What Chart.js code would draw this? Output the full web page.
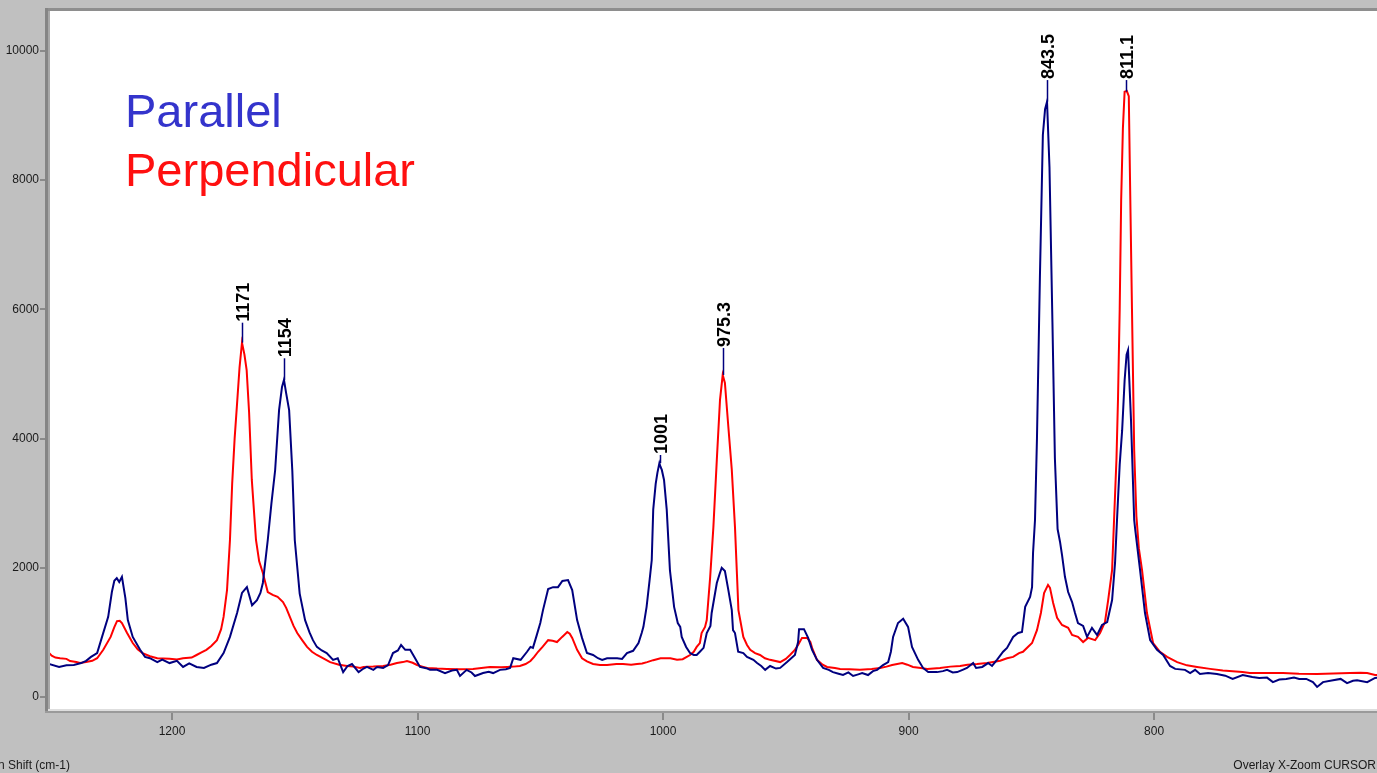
<!DOCTYPE html>
<html><head><meta charset="utf-8">
<script src="https://cdn.jsdelivr.net/npm/chart.js@4/dist/chart.umd.min.js"></script>
<style>html,body{margin:0;padding:0;background:#c0c0c0;overflow:hidden}canvas{display:block}</style>
</head><body>
<canvas id="c" width="1377" height="773"></canvas>
<script>
// ---- Data (Raman shift in cm-1, intensity) ----
const waveParallel = [
1250,1246,1243,1240,1237,1235,1233,1230.5,1228.5,1226,
1224.5,1223.5,1222.5,1221.5,1220.4,1219,1218,1216,1213,1211,
1209,1206,1204,1201,1198,1195.5,1193,1190,1187,1184,
1181.7,1179,1176.4,1173.5,1171.5,1169.5,1167.4,1165.4,1164,1163,
1161,1159.5,1158,1156.4,1155.2,1154.4,1153.5,1152.3,1151,1150,
1148,1145.8,1144,1142.6,1141,1139,1137,1134.4,1132.5,1130.3,
1128.5,1126.7,1124,1122,1120.6,1118,1116.5,1114,1112,1110,
1108,1106.7,1105,1103,1101,1099,1096,1094.9,1092,1088.8,
1086,1084,1082.7,1080,1078,1076.6,1073.3,1071,1069.2,1066.4,
1064,1062.3,1061,1058,1055.4,1054,1053,1051.5,1050,1048.9,
1046.8,1044.8,1042.8,1041,1038.7,1037,1035,1033,1031,1028.5,
1026.5,1024.8,1022.8,1018.7,1016.7,1014.7,1012.2,1010,1008.7,1008,
1006.7,1005.5,1004.6,1004,1003,1002.3,1001.5,1001,1000.5,999.6,
998.5,997.2,995.5,994,993,992.4,990.6,989,987.5,986.3,
985,983.5,982.2,980.7,980.2,978.1,977,976.1,974.8,973.4,
972,971.5,970.7,969.4,967.3,965.8,963.2,961.7,960,958.4,
956.4,954,952.3,949.5,946.3,945,944.6,942.6,940.9,939.3,
937.3,934.8,932.5,930.8,928.5,926.7,924.5,922.6,920.5,918.9,
916.5,914.5,912.8,910.4,908.3,907.2,906.3,904.3,902.2,900.2,
898.6,896.1,894.1,892,888.4,886,884.3,882,880.2,878,
876.2,873.7,872.5,870,867.6,866,864,861.5,859.9,857.4,
855.4,853.8,852.5,850.5,849.7,849.3,848.5,847.7,846.5,845.3,
844.4,843.6,842.6,841.4,840.4,839.3,838.3,837.5,836.3,835,
833.4,832.2,831,828.9,827.3,825.3,823.2,821.2,819.1,817.1,
815.9,815.1,814,813,812,811.2,810.6,809.4,808.1,807.7,
805.7,803.7,801.6,798.8,796.3,793.5,791.4,787.4,785.3,783.3,
781.3,778,774.4,771,768,763.9,760,757.2,754,751.6,
749,746.2,743,740.9,738,735.3,733.6,731.2,727.1,724,
721.4,719,717.3,713.2,710,708];
const parallel = [
510,465,490,495,525,560,620,680,930,1240,
1625,1800,1840,1780,1860,1530,1190,930,730,620,
600,540,580,525,560,465,520,465,450,500,
525,680,930,1300,1610,1700,1420,1500,1610,1765,
2430,3000,3510,4440,4800,4910,4700,4440,3500,2430,
1600,1190,1000,880,775,720,680,575,600,385,
480,510,385,440,465,420,465,450,495,680,
720,805,730,730,600,465,440,420,420,370,
410,420,325,420,380,325,370,390,370,420,
430,450,600,575,700,775,760,950,1145,1345,
1670,1700,1700,1795,1810,1655,1190,915,680,650,
600,575,600,600,590,680,715,835,990,1085,
1395,1800,2120,2900,3300,3470,3620,3560,3515,3360,
2900,1965,1395,1145,1085,930,775,680,650,650,
700,760,990,1100,1300,1765,1900,2000,1950,1655,
1345,1035,990,700,680,620,575,525,480,420,
480,440,450,540,650,850,1050,1050,915,730,
575,450,420,385,360,340,380,325,350,370,
340,400,420,495,540,700,930,1145,1210,1085,
775,575,450,385,385,400,420,380,385,420,
450,525,450,465,525,480,575,700,760,930,
990,1005,1395,1550,1700,2230,2740,4000,6500,8700,
9100,9215,8200,5800,3700,2600,2400,2200,1860,1625,
1470,1300,1145,1100,930,1070,960,1115,1160,1500,
2075,2740,3600,4130,4900,5300,5370,4290,2740,2600,
1965,1300,880,730,650,480,435,420,370,420,
355,370,355,330,280,340,310,295,300,230,
270,280,300,280,280,230,155,230,260,280,
215,250,260,230,295,300];

const wavePerpendicular = [
1250,1249,1247.5,1245.6,1243,1241.5,1239,1237.5,1235,1232.5,
1230.5,1228,1225,1223.5,1222.4,1221.3,1220.4,1218.3,1216,1214,
1212,1209,1206,1201,1198,1195.5,1192,1190,1188,1186,
1184,1181.7,1180,1179,1177.6,1176.4,1175.5,1174.5,1173.6,1172.5,
1171.5,1170.5,1169.6,1168.6,1167.5,1165.8,1164.5,1163,1161,1159,
1157,1154.8,1153.5,1152,1150.5,1149,1147,1145,1143,1141,
1138,1135.6,1132,1128.7,1126,1123.4,1122,1118,1114,1111,
1108.4,1106,1104.3,1102,1100.2,1098,1096.1,1092,1088,1083,
1077.4,1074,1070.5,1066,1063.5,1061,1058.3,1056,1054,1052.5,
1050.9,1049,1046.8,1045,1043.2,1041.1,1039,1038,1037,1035,
1033,1031,1028.5,1025.7,1022.8,1019,1016.3,1013,1010.6,1008.5,
1006.5,1004,1001,997,994.3,992,989,987.5,986.3,985,
984.3,982.9,982.2,980.8,979.5,978.1,976.8,975.7,974.8,973.4,
972,970.7,969.9,969.3,967.3,965.8,964.5,962.5,960.5,958.5,
956.4,952.3,950,948.3,946.5,945,943.4,941.3,940,939.3,
937.3,935,933.2,930,927.9,924,919.8,915,911.6,909,
906.7,902.6,900.5,898.2,895,892.4,887.2,883,879,876,
872.1,868,865.6,862.7,859.9,857.4,855,853.4,851.5,849.7,
847.7,846.1,844.8,843.2,842.4,841.1,839.5,837.5,835,833.4,
831,828.9,826.9,824,822,820,818.7,817.1,816.3,815.3,
814.7,814,813.4,812.7,812,811.1,810.3,809.6,809,808.1,
807.2,806.2,804.9,802.9,800.4,797.6,794.7,790.6,786.6,782.5,
777.2,772,768,764,761,755,747.5,741,733.6,727,
720.2,716,713.2,710,708];
const perpendicular = [
680,640,610,600,590,557,540,525,540,560,
600,730,930,1080,1175,1180,1145,990,835,740,
680,630,600,590,580,600,610,650,690,730,
790,880,1050,1240,1655,2430,3300,4000,4490,5100,
5485,5300,5060,4400,3360,2430,2100,1920,1625,1580,
1550,1470,1380,1240,1100,990,880,775,700,650,
590,540,500,480,470,450,465,470,480,500,
525,540,557,530,495,470,450,440,435,430,
435,450,465,460,465,470,480,510,557,620,
700,780,880,870,850,930,1005,980,915,730,
600,550,510,495,495,510,510,500,510,520,
540,570,600,600,575,585,650,700,775,835,
990,1085,1190,1860,2630,3670,4600,4985,4860,4180,
3515,2630,1900,1345,930,805,730,680,650,600,
575,540,590,650,720,805,915,915,850,760,
575,500,465,450,435,430,420,435,450,470,
495,525,500,465,450,435,450,470,480,500,
510,525,540,560,600,620,680,700,770,835,
1035,1300,1610,1735,1690,1455,1225,1115,1070,960,
930,850,915,880,990,1160,1500,1965,2740,3700,
4600,6000,7700,8800,9370,9380,9300,7500,6000,3820,
2800,2300,1965,1300,835,700,620,540,490,465,
435,410,400,385,370,370,370,360,355,365,
370,375,370,340,340];

const seriesNames = ['Parallel', 'Perpendicular'];
const xTicks = [1200, 1100, 1000, 900, 800];
const yTicks = [0, 2000, 4000, 6000, 8000, 10000];
const peakLabels = ['1171', '1154', '1001', '975.3', '843.5', '811.1'];
const peakWave = [1171.4, 1154.4, 1001.4, 975.4, 843.6, 811.3];
const peakValue = [5485, 4907, 3620, 4985, 9215, 9370];
const peakLabelValue = [5794, 5243, 3746, 5403, 9550, 9550];
const axisTitle = 'Raman Shift (cm-1)';
const statusText = 'Overlay X-Zoom CURSOR';

// ---- Rendering ----
const FONT = '"Liberation Sans", Arial, sans-serif';
const BLUE = '#00007f', RED = '#ff0000';

const framePlugin = {
  id: 'frame',
  beforeDraw(chart) {
    const { ctx, chartArea: a } = chart;
    ctx.save();
    ctx.fillStyle = '#c0c0c0';
    ctx.fillRect(0, 0, chart.width, chart.height);
    ctx.fillStyle = '#ffffff';
    ctx.fillRect(a.left, a.top, a.right - a.left, a.bottom - a.top);
    ctx.restore();
  },
  afterDatasetsDraw(chart) {
    const { ctx } = chart;
    const xs = chart.scales.x, ys = chart.scales.y;
    ctx.save();
    for (let i = 0; i < peakLabels.length; i++) {
      const x = Math.round(xs.getPixelForValue(peakWave[i])) + 0.5;
      const y1 = ys.getPixelForValue(peakValue[i]);
      const y0 = ys.getPixelForValue(peakLabelValue[i]);
      ctx.strokeStyle = BLUE;
      ctx.lineWidth = 1.5;
      ctx.beginPath(); ctx.moveTo(x, y1); ctx.lineTo(x, y0); ctx.stroke();
      ctx.save();
      ctx.translate(x + 6.5, y0 - 1);
      ctx.rotate(-Math.PI / 2);
      ctx.font = 'bold 18px ' + FONT;
      ctx.fillStyle = '#000000';
      ctx.textAlign = 'left';
      ctx.textBaseline = 'alphabetic';
      ctx.fillText(peakLabels[i], 0, 0);
      ctx.restore();
    }
    // legend texts
    ctx.font = '47px ' + FONT;
    ctx.textAlign = 'left';
    ctx.textBaseline = 'alphabetic';
    ctx.fillStyle = '#3434cc';
    ctx.fillText(seriesNames[0], 125, 127);
    ctx.fillStyle = '#ff1010';
    ctx.fillText(seriesNames[1], 125, 186);
    ctx.restore();
  },
  afterDraw(chart) {
    const { ctx, chartArea: a } = chart;
    const W = chart.width;
    ctx.save();
    // frame borders
    ctx.fillStyle = '#8e8e8e';
    ctx.fillRect(45, 8, W - 45, 3);
    ctx.fillStyle = '#858585';
    ctx.fillRect(45, 8, 3, a.bottom + 4 - 8);
    ctx.fillStyle = '#a8a8a8';
    ctx.fillRect(48, 11, 2, a.bottom - 11);
    ctx.fillStyle = '#dedede';
    ctx.fillRect(48, a.bottom, W - 48, 2);
    ctx.fillStyle = '#9a9a9a';
    ctx.fillRect(45, a.bottom + 2, W - 45, 2);
    // bottom texts
    ctx.fillStyle = '#1a1a1a';
    ctx.font = '12px ' + FONT;
    ctx.textBaseline = 'alphabetic';
    ctx.textAlign = 'right';
    ctx.fillText(axisTitle, 70, 769);
    ctx.fillText(statusText, 1376, 769, 148);
    ctx.restore();
  }
};

new Chart(document.getElementById('c'), {
  type: 'line',
  data: {
    datasets: [
      {
        label: seriesNames[0],
        data: waveParallel.map((w, i) => ({ x: w, y: parallel[i] })),
        borderColor: BLUE, borderWidth: 2, pointRadius: 0, tension: 0, fill: false
      },
      {
        label: seriesNames[1],
        data: wavePerpendicular.map((w, i) => ({ x: w, y: perpendicular[i] })),
        borderColor: RED, borderWidth: 2, pointRadius: 0, tension: 0, fill: false
      }
    ]
  },
  options: {
    responsive: false,
    animation: false,
    devicePixelRatio: 1,
    layout: { padding: { top: 11, left: 0, right: 0, bottom: 0 } },
    plugins: { legend: { display: false }, tooltip: { enabled: false } },
    scales: {
      x: {
        type: 'linear', reverse: true, min: 709.2, max: 1249.7,
        afterFit(s) { s.height = 64; },
        afterBuildTicks(s) { s.ticks = xTicks.map(v => ({ value: v })); },
        grid: { drawOnChartArea: false, drawTicks: true, tickLength: 11, color: '#8a8a8a', lineWidth: 2 },
        border: { display: false },
        ticks: { font: { family: FONT, size: 12 }, color: '#1a1a1a', padding: 4, maxRotation: 0, autoSkip: false, callback: v => String(v) }
      },
      y: {
        type: 'linear', min: -186, max: 10619,
        afterFit(s) { s.width = 50; },
        afterBuildTicks(s) { s.ticks = yTicks.map(v => ({ value: v })); },
        grid: { drawOnChartArea: false, drawTicks: true, tickLength: 10, color: '#8a8a8a', lineWidth: 2 },
        border: { display: false },
        ticks: { font: { family: FONT, size: 12 }, color: '#1a1a1a', padding: 1, autoSkip: false, callback: v => String(v) }
      }
    }
  },
  plugins: [framePlugin]
});
</script>
</body></html>
